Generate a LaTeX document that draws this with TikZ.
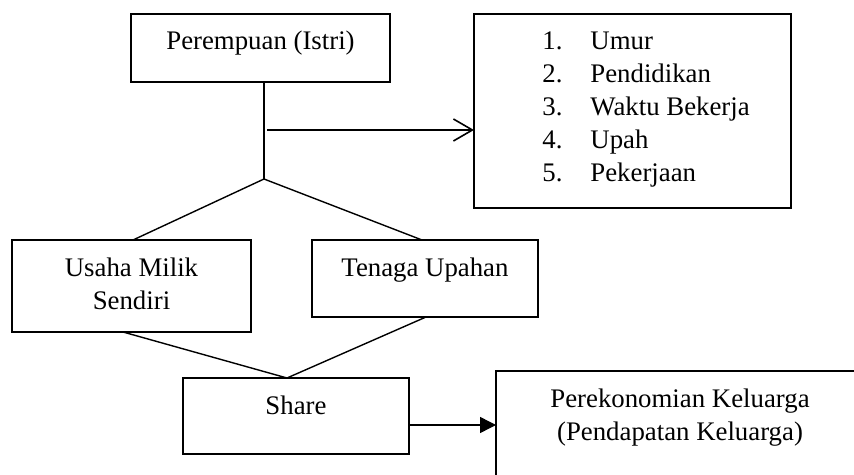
\documentclass[tikz,border=0pt]{standalone}
\usepackage{fontspec}
\setmainfont{Liberation Serif}
\usetikzlibrary{arrows.meta,calc}
\tikzset{
  box/.style={draw=black, line width=1.1pt, rectangle, inner sep=0pt, outer sep=0pt, anchor=north west},
  conn/.style={draw=black, line width=0.7pt},
  txt/.style={inner sep=0pt, anchor=base, font=\fontsize{13.4}{16.5}\selectfont},
  txtl/.style={inner sep=0pt, anchor=base west, font=\fontsize{13.4}{16.5}\selectfont},
}
\begin{document}
\begin{tikzpicture}[x=0.5pt,y=-0.5pt]
\useasboundingbox (0,0) rectangle (854,475);
\clip (0,0) rectangle (854,475);
\fill[white] (0,0) rectangle (854,475);
% boxes
\node[box, minimum width=129.5pt, minimum height=34pt] (p) at (131,14) {};
\node[box, minimum width=158.5pt, minimum height=97pt] (l) at (474,14) {};
\node[box, minimum width=119.5pt, minimum height=46pt] (u) at (12,240) {};
\node[box, minimum width=113pt, minimum height=38.5pt] (t) at (312,240) {};
\node[box, minimum width=113pt, minimum height=38pt] (s) at (183,378) {};
\node[box, minimum width=184pt, minimum height=65pt] (e) at (496,371) {};
% texts
\node[txt] (pt) at (260.5,50) {Perempuan (Istri)};
\node[txtl] (n1) at (542,50) {1.};
\node[txtl] (i1) at (590,50) {Umur};
\node[txtl] (n2) at (542,83) {2.};
\node[txtl] (i2) at (590,83) {Pendidikan};
\node[txtl] (n3) at (542,116) {3.};
\node[txtl] (i3) at (590,116) {Waktu Bekerja};
\node[txtl] (n4) at (542,149) {4.};
\node[txtl] (i4) at (590,149) {Upah};
\node[txtl] (n5) at (542,182) {5.};
\node[txtl] (i5) at (590,182) {Pekerjaan};
\node[txt] (ut1) at (131.5,276) {Usaha Milik};
\node[txt] (ut2) at (131.5,309) {Sendiri};
\node[txt] (tt) at (425,276) {Tenaga Upahan};
\node[txt] (st) at (296,414) {Share};
\node[txt] (et1) at (680,407) {Perekonomian Keluarga};
\node[txt] (et2) at (680,440) {(Pendapatan Keluarga)};
% connectors
\coordinate (j) at (264,179);
\coordinate (a0) at (267,130);
\draw[conn] (p.south -| j) -- (j);
\draw[conn, -{Straight Barb[length=9.5pt,width=11pt,line width=0.8pt]}] (a0) -- (a0 -| l.west);
\draw[conn] (j) -- ([xshift=0.75pt]u.north);
\draw[conn] (j) -- ([xshift=-1.5pt]t.north);
\draw[conn] ([xshift=-4.25pt]u.south) -- ([xshift=-4.5pt]s.north);
\draw[conn] ([xshift=0.5pt]t.south) -- ([xshift=-4.5pt]s.north);
\coordinate (sa) at ([yshift=-4.5pt]s.east);
\draw[conn, -{Triangle[length=8pt,width=8pt]}] (sa) -- (sa -| e.west);
\end{tikzpicture}
\end{document}
